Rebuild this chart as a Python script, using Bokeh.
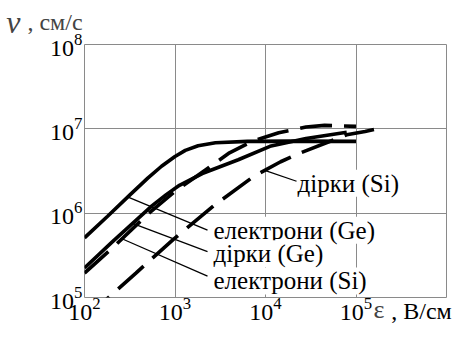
from bokeh.plotting import figure
from bokeh.models import FixedTicker, Label, LogTickFormatter
from bokeh.embed import file_html
from bokeh.resources import INLINE

# Drift velocity v (cm/s) vs field E (V/cm)
E_ge_e = [100, 180, 320, 500, 710, 1000, 1300, 1800, 2800, 6300, 20000, 100000]
v_ge_e = [5.1e5, 9.2e5, 1.66e6, 2.6e6, 3.6e6, 4.7e6, 5.55e6, 6.3e6, 6.85e6, 7.1e6, 7.15e6, 7.1e6]

E_ge_h = [100, 200, 355, 560, 800, 1120, 2000, 5000, 11200, 28000, 79000]
v_ge_h = [2.24e5, 4.5e5, 7.9e5, 1.23e6, 1.66e6, 2.14e6, 2.95e6, 4.3e6, 6.2e6, 7.7e6, 9.1e6]

E_si_e = [100, 200, 500, 1000, 1780, 4000, 7100, 14000, 28000, 45000, 100000]
v_si_e = [1.95e5, 3.8e5, 9.7e5, 1.82e6, 2.8e6, 5.2e6, 7.1e6, 9.0e6, 1.05e7, 1.1e7, 1.07e7]

E_si_h = [100, 184, 370, 960, 2660, 7400, 14700, 25000, 79000, 126000, 158000]
v_si_h = [5.4e4, 1.0e5, 1.95e5, 4.9e5, 1.22e6, 2.73e6, 4.07e6, 5.25e6, 8.5e6, 9.3e6, 9.8e6]

x_ticks = [1e2, 1e3, 1e4, 1e5]
y_ticks = [1e5, 1e6, 1e7, 1e8]
x_title_symbol = "ε"
x_title_unit = ", В/см"
y_title_symbol = "v"
y_title_unit = ", см/с"

labels = ["електрони (Ge)", "дірки (Ge)", "електрони (Si)", "дірки (Si)"]

# title positions (layout, not data)
x_unit_pos = 5.30e5
x_sym_pos = (1.56e5, 7.11e4)
y_sym_pos = (13.7, 1.87e8)
y_unit_pos = (23.4, 1.85e8)

SERIF = "'Liberation Serif', 'Times New Roman', serif"
AXFONT = "serif"
GRID = "#8a8a8a"

p = figure(width=458, height=326, x_axis_type="log", y_axis_type="log",
           x_range=(1e2, 1e6), y_range=(1e5, 1e8),
           output_backend="svg", toolbar_location=None,
           min_border_left=84, min_border_right=12, min_border_top=44, min_border_bottom=28)

p.background_fill_color = "white"
p.border_fill_color = "white"
p.outline_line_color = GRID
p.outline_line_width = 1

for ax, ticks in ((p.xaxis[0], x_ticks + [x_unit_pos]), (p.yaxis[0], y_ticks)):
    ax.ticker = FixedTicker(ticks=ticks)
    ax.formatter = LogTickFormatter()
    ax.axis_line_color = None
    ax.major_tick_line_color = None
    ax.minor_tick_line_color = None
    ax.major_tick_out = 0
    ax.major_tick_in = 0
    ax.minor_tick_out = 0
    ax.major_label_text_font = AXFONT
    ax.major_label_text_font_size = "24px"
    ax.major_label_text_color = "black"
p.xaxis.major_label_standoff = 0
p.yaxis.major_label_standoff = 2
p.xaxis[0].major_label_overrides = {x_unit_pos: x_title_unit}

p.xgrid.ticker = FixedTicker(ticks=x_ticks)
p.ygrid.ticker = FixedTicker(ticks=y_ticks)
for g in (p.xgrid[0], p.ygrid[0]):
    g.grid_line_color = GRID
    g.grid_line_width = 1

LW = 3.6
p.line(E_ge_e, v_ge_e, line_color="black", line_width=LW)
p.line(E_ge_h, v_ge_h, line_color="black", line_width=LW)
p.line(E_si_e, v_si_e, line_color="black", line_width=LW, line_dash="32 12")
p.line(E_si_h, v_si_h, line_color="black", line_width=LW, line_dash="34 12")

# leader lines (annotation positions)
lead_x0 = [299, 339, 263, 10000]
lead_y0 = [1.56e6, 7.57e5, 4.94e5, 3.2e6]
lead_x1 = [2286, 2286, 2286, 22030]
lead_y1 = [6.28e5, 3.49e5, 1.79e5, 2.39e6]
p.segment(lead_x0, lead_y0, lead_x1, lead_y1, line_color="black", line_width=1.3)

lab_x = [2661, 2661, 2661, 22590]
lab_y = [6.28e5, 3.31e5, 1.57e5, 2.26e6]
for t, x, y in zip(labels, lab_x, lab_y):
    p.add_layout(Label(x=x, y=y, text=t, text_font=SERIF, text_font_size="25px",
                       text_align="left", text_baseline="middle", text_color="black",
                       background_fill_color="white", background_fill_alpha=1.0))

# axis titles: labels living in the side panels (outside the frame)
p.add_layout(Label(x=y_sym_pos[0], y=y_sym_pos[1], text=y_title_symbol, text_font=SERIF,
                   text_font_style="italic", text_font_size="32px",
                   text_align="left", text_baseline="alphabetic"), "left")
p.add_layout(Label(x=y_unit_pos[0], y=y_unit_pos[1], text=y_title_unit, text_font=SERIF,
                   text_font_size="24px", text_align="left", text_baseline="alphabetic"), "above")
p.add_layout(Label(x=x_sym_pos[0], y=x_sym_pos[1], text=x_title_symbol, text_font=SERIF,
                   text_font_size="26px", text_align="left", text_baseline="alphabetic"), "left")

open("out.html", "w").write(file_html(p, INLINE))
